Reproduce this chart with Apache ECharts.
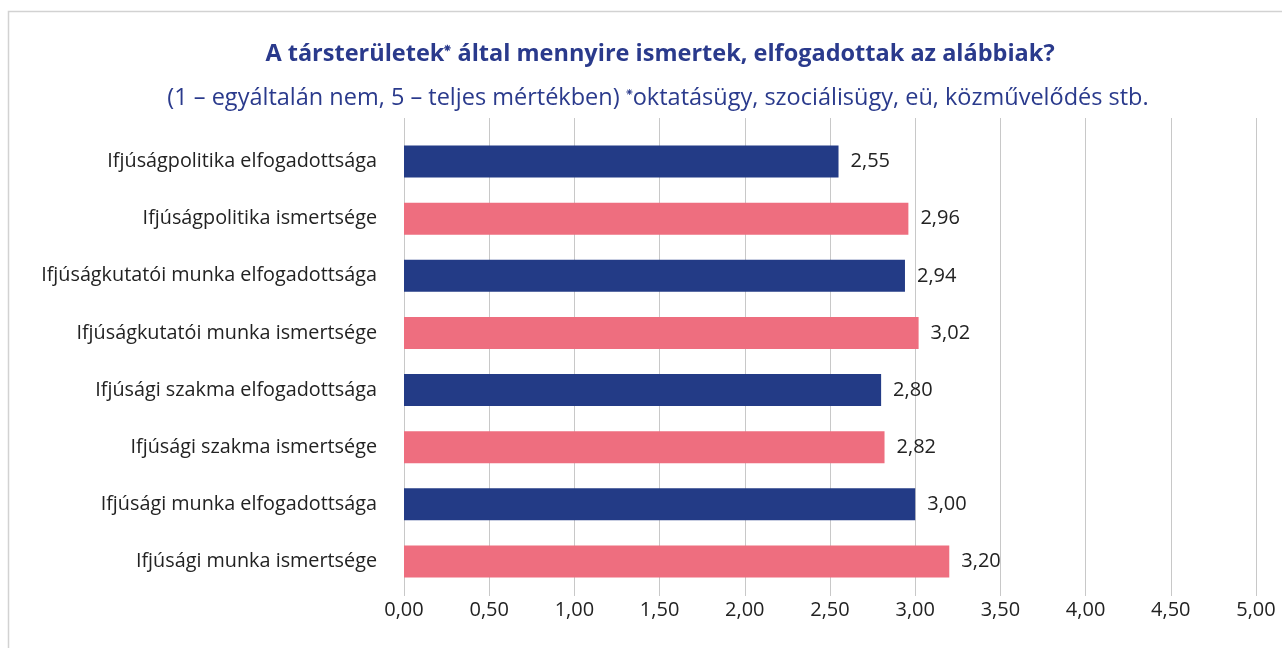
<!DOCTYPE html>
<html>
<head>
<meta charset="utf-8">
<script src="https://cdn.jsdelivr.net/npm/echarts@6/dist/echarts.min.js"></script>
<style>
  html, body { margin: 0; padding: 0; background: #fff; }
  #chart { width: 1282px; height: 648px; }
</style>
</head>
<body>
<div id="chart"></div>
<script>
var categories = [
  'Ifjúságpolitika elfogadottsága',
  'Ifjúságpolitika ismertsége',
  'Ifjúságkutatói munka elfogadottsága',
  'Ifjúságkutatói munka ismertsége',
  'Ifjúsági szakma elfogadottsága',
  'Ifjúsági szakma ismertsége',
  'Ifjúsági munka elfogadottsága',
  'Ifjúsági munka ismertsége'
];
var values = [2.55, 2.96, 2.94, 3.02, 2.80, 2.82, 3.00, 3.20];
var barColors = ['#233b86', '#ee6e7f'];

var titleColor = '#2a3a8c';
var fontFam = '"Open Sans", sans-serif';

var myChart = echarts.init(document.getElementById('chart'));

function comma(v) { return v.toFixed(2).replace('.', ','); }

var option = {
  backgroundColor: '#fff',
  animation: false,
  graphic: [{
    type: 'rect',
    shape: { x: 8.5, y: 11.5, width: 1400, height: 800 },
    style: { fill: 'none', stroke: '#d2d2d2', lineWidth: 1.5 },
    silent: true
  }],
  title: [{
    text: 'A társterületek{s|\u2055} által mennyire ismertek, elfogadottak az alábbiak?',
    left: 655, top: 37, textAlign: 'center',
    textStyle: {
      color: titleColor, fontSize: 23.5, fontWeight: 'bold', fontFamily: fontFam,
      rich: { s: { fontSize: 12, color: titleColor, padding: [0, 0, 12, 0], fontFamily: fontFam } }
    }
  }, {
    text: '(1 – egyáltalán nem, 5 – teljes mértékben) {s|\u2055}oktatásügy, szociálisügy, eü, közművelődés stb.',
    left: 653, top: 81, textAlign: 'center',
    textStyle: {
      color: titleColor, fontSize: 23.5, fontWeight: 'normal', fontFamily: fontFam,
      rich: { s: { fontSize: 12, color: titleColor, padding: [0, 0, 12, 0], fontFamily: fontFam } }
    }
  }],
  grid: [
    { left: 404, right: 26, top: 118, bottom: 52 },
    { left: 404, right: 26, top: 133, bottom: 58 }
  ],
  xAxis: [{
    gridIndex: 0, type: 'value', min: 0, max: 5, interval: 0.5,
    axisLine: { show: false }, axisTick: { show: false },
    splitLine: { lineStyle: { color: '#c8c8c8', width: 1 } },
    axisLabel: { color: '#222', fontSize: 20, fontFamily: fontFam, margin: 4, formatter: comma }
  }, {
    gridIndex: 1, type: 'value', min: 0, max: 5, interval: 0.5,
    axisLine: { show: false }, axisTick: { show: false },
    splitLine: { show: false }, axisLabel: { show: false }
  }],
  yAxis: [{
    gridIndex: 0, type: 'category', data: categories, show: false
  }, {
    gridIndex: 1, type: 'category', data: categories, inverse: true,
    axisLine: { show: false }, axisTick: { show: false },
    axisLabel: { color: '#222', fontSize: 19.8, fontFamily: fontFam, margin: 27 }
  }],
  series: [{
    type: 'bar',
    xAxisIndex: 1, yAxisIndex: 1,
    barWidth: 32,
    data: values.map(function (v, i) {
      return { value: v, itemStyle: { color: barColors[i % 2] } };
    }),
    label: {
      show: true, position: 'right', distance: 12,
      color: '#222', fontSize: 20, fontFamily: fontFam,
      formatter: function (p) { return comma(p.value); }
    }
  }]
};

myChart.setOption(option);
</script>
</body>
</html>
